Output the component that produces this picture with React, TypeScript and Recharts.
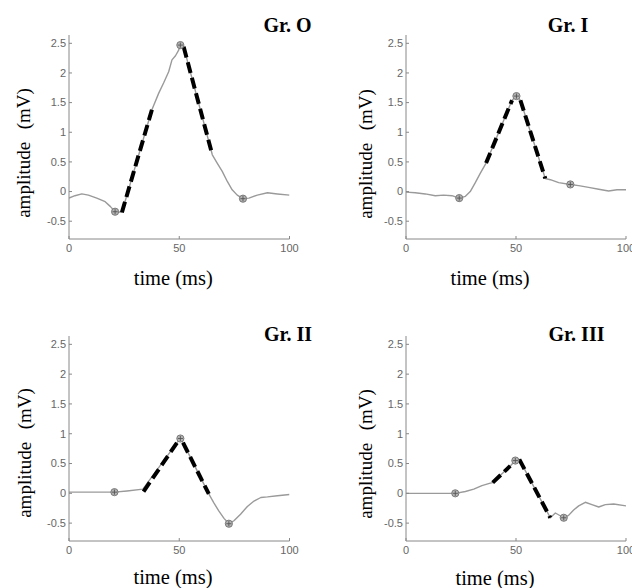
import React from 'react';
import { ComposedChart, Line, XAxis, YAxis } from 'recharts';

// ---- Data ----
const titles = ['Gr. O', 'Gr. I', 'Gr. II', 'Gr. III'];
const xTicks = [0, 50, 100];
const yTicks = [-0.5, 0, 0.5, 1, 1.5, 2, 2.5];

// Gr. O
const timeO = [0, 2.7, 5.8, 8.8, 12.6, 16.4, 18.7, 20.9, 24, 37.6, 40.7, 42.9, 45.2, 46.7, 48.3, 49.8, 50.5, 52, 65, 67.2, 69.5, 71.8, 74, 76.3, 78.9, 81.6, 85.4, 90, 94.5, 100];
const ampO = [-0.11, -0.07, -0.04, -0.06, -0.11, -0.17, -0.25, -0.34, -0.35, 1.38, 1.66, 1.83, 2.02, 2.22, 2.29, 2.39, 2.48, 2.44, 0.62, 0.48, 0.34, 0.17, 0.03, -0.06, -0.12, -0.11, -0.06, -0.02, -0.04, -0.06];
const dashTimeO = [[24, 37.6], [52, 65]];
const dashAmpO = [[-0.35, 1.38], [2.44, 0.62]];
const markTimeO = [20.9, 50.5, 78.9];
const markAmpO = [-0.34, 2.47, -0.12];

// Gr. I
const timeI = [0, 4.2, 8.8, 13.3, 17.1, 20.9, 24.2, 27, 29.2, 31.5, 33.8, 36.4, 48.2, 50.2, 52, 63.3, 65.6, 69.4, 74.7, 78.5, 83, 87.6, 92.1, 95.9, 100];
const ampI = [-0.01, -0.02, -0.04, -0.07, -0.06, -0.07, -0.11, -0.08, 0, 0.15, 0.31, 0.48, 1.54, 1.61, 1.54, 0.22, 0.2, 0.15, 0.12, 0.1, 0.07, 0.04, 0.01, 0.03, 0.03];
const dashTimeI = [[36.4, 48.2], [52, 63.3]];
const dashAmpI = [[0.48, 1.54], [1.54, 0.22]];
const markTimeI = [24.2, 50.2, 74.7];
const markAmpI = [-0.11, 1.61, 0.12];

// Gr. II
const timeII = [0, 14.1, 20.6, 26.3, 33.5, 49, 50.5, 51.7, 63.4, 65.7, 68, 70.3, 72.5, 74.8, 77.8, 80.9, 83.9, 87, 90, 94.5, 100];
const ampII = [0.02, 0.02, 0.02, 0.04, 0.07, 0.85, 0.92, 0.85, -0.01, -0.16, -0.3, -0.42, -0.51, -0.46, -0.35, -0.22, -0.13, -0.07, -0.06, -0.04, -0.02];
const dashTimeII = [[33.8, 49], [51.7, 63.4]];
const dashAmpII = [[0.03, 0.85], [0.85, -0.01]];
const markTimeII = [20.6, 50.5, 72.5];
const markAmpII = [0.02, 0.92, -0.51];

// Gr. III
const timeIII = [0, 11.8, 22.4, 27, 30.8, 34.5, 38.3, 39.4, 47.4, 49.7, 51.5, 65.6, 67.9, 71.7, 73.9, 76.2, 78.5, 81.5, 84.5, 87.6, 90.6, 94.4, 100];
const ampIII = [0, 0, 0, 0.03, 0.07, 0.13, 0.17, 0.18, 0.46, 0.55, 0.57, -0.41, -0.33, -0.41, -0.37, -0.28, -0.21, -0.15, -0.19, -0.23, -0.19, -0.18, -0.21];
const dashTimeIII = [[39.4, 47.4], [51.5, 65.6]];
const dashAmpIII = [[0.18, 0.46], [0.57, -0.41]];
const markTimeIII = [22.4, 49.7, 71.7];
const markAmpIII = [0, 0.55, -0.41];

// ---- helpers ----
const zip = (t: number[], v: number[]) => t.map((x, i) => ({ t: x, v: v[i] }));

const TICK_COLOR = '#888';
const LABEL_COLOR = '#666';
const SANS = "'Liberation Sans', Arial, sans-serif";
const SERIF = "'Liberation Serif', 'Times New Roman', serif";

const YTick = (props: any) => {
  const { x, y, payload } = props;
  return (
    <g>
      <line x1={x + 3} x2={x + 6} y1={y} y2={y} stroke={TICK_COLOR} strokeWidth={1} />
      <text x={x} y={y} dy="0.35em" textAnchor="end" fontSize={11} fill={LABEL_COLOR} fontFamily={SANS}>
        {String(payload.value)}
      </text>
    </g>
  );
};

const XTick = (props: any) => {
  const { x, y, payload } = props;
  return (
    <g>
      <line x1={x} x2={x} y1={y - 5.5} y2={y - 8.5} stroke={TICK_COLOR} strokeWidth={1} />
      <text x={x} y={y} dy="0.71em" textAnchor="middle" fontSize={11} fill={LABEL_COLOR} fontFamily={SANS}>
        {String(payload.value)}
      </text>
    </g>
  );
};

const Marker = (props: any) => {
  const { cx, cy, index } = props;
  if (cx == null || cy == null) return <g key={`m${index}`} />;
  return (
    <g key={`m${index}`}>
      <circle cx={cx} cy={cy} r={3.6} fill="#b4b4b4" stroke="#707070" strokeWidth={0.9} />
      <line x1={cx - 2.6} x2={cx + 2.6} y1={cy} y2={cy} stroke="#555" strokeWidth={0.9} />
      <line x1={cx} x2={cx} y1={cy - 2.6} y2={cy + 2.6} stroke="#555" strokeWidth={0.9} />
    </g>
  );
};

type PanelProps = {
  left: number;
  top: number;
  plot: { L: number; R: number; T: number; B: number };
  time: number[];
  amp: number[];
  dashT: number[][];
  dashA: number[][];
  markT: number[];
  markA: number[];
};

const W = 316;
const H = 294;
const YW = 30;
const XH = 20;

const Panel = ({ left, top, plot, time, amp, dashT, dashA, markT, markA }: PanelProps) => {
  const margin = { top: plot.T, left: plot.L - YW, right: W - plot.R, bottom: H - plot.B - XH };
  return (
    <div style={{ position: 'absolute', left, top, width: W, height: H }}>
      <ComposedChart width={W} height={H} margin={margin}>
        <XAxis
          type="number"
          dataKey="t"
          domain={[0, 100]}
          ticks={xTicks}
          allowDataOverflow
          height={XH}
          tickSize={0}
          tickMargin={5.5}
          tickLine={false}
          axisLine={{ stroke: TICK_COLOR, strokeWidth: 1 }}
          tick={<XTick />}
          interval={0}
        />
        <YAxis
          type="number"
          dataKey="v"
          domain={[-0.8, 2.64]}
          ticks={yTicks}
          allowDataOverflow
          width={YW}
          tickSize={0}
          tickMargin={3}
          tickLine={false}
          axisLine={{ stroke: TICK_COLOR, strokeWidth: 1 }}
          tick={<YTick />}
          interval={0}
        />
        <Line
          data={zip(time, amp)}
          dataKey="v"
          type="linear"
          stroke="#9a9a9a"
          strokeWidth={1.4}
          strokeLinejoin="round"
          dot={false}
          activeDot={false}
          isAnimationActive={false}
        />
        {dashT.map((seg, i) => (
          <Line
            key={`d${i}`}
            data={zip(seg, dashA[i])}
            dataKey="v"
            type="linear"
            stroke="#000"
            strokeWidth={4}
            strokeDasharray="11 5"
            dot={false}
            activeDot={false}
            isAnimationActive={false}
          />
        ))}
        <Line
          data={zip(markT, markA)}
          dataKey="v"
          stroke="none"
          dot={(p: any) => <Marker {...p} />}
          activeDot={false}
          isAnimationActive={false}
        />
      </ComposedChart>
    </div>
  );
};

const centered = (x: number, y: number, extra: React.CSSProperties = {}, rotate = false): React.CSSProperties => ({
  position: 'absolute',
  left: x,
  top: y,
  transform: `translate(-50%, -50%)${rotate ? ' rotate(-90deg)' : ''}`,
  whiteSpace: 'pre',
  lineHeight: 1,
  fontFamily: SERIF,
  color: '#000',
  ...extra,
});

export default function App() {
  const topPlotLeft = { L: 69, R: 289.5, T: 35, B: 239 };
  const topPlotRight = { L: 90, R: 310, T: 35, B: 239 };
  const botPlotLeft = { L: 69, R: 289.5, T: 42, B: 247 };
  const botPlotRight = { L: 90, R: 310, T: 42, B: 247 };

  const titleStyle = { fontSize: 20, fontWeight: 700 } as React.CSSProperties;
  const xLabStyle = { fontSize: 20.5 } as React.CSSProperties;
  const yLabStyle = { fontSize: 19, wordSpacing: 1.5 } as React.CSSProperties;

  return (
    <div style={{ position: 'absolute', left: 0, top: 0, width: 632, height: 588, background: '#fff', overflow: 'hidden' }}>
      <Panel left={0} top={0} plot={topPlotLeft} time={timeO} amp={ampO} dashT={dashTimeO} dashA={dashAmpO} markT={markTimeO} markA={markAmpO} />
      <Panel left={316} top={0} plot={topPlotRight} time={timeI} amp={ampI} dashT={dashTimeI} dashA={dashAmpI} markT={markTimeI} markA={markAmpI} />
      <Panel left={0} top={294} plot={botPlotLeft} time={timeII} amp={ampII} dashT={dashTimeII} dashA={dashAmpII} markT={markTimeII} markA={markAmpII} />
      <Panel left={316} top={294} plot={botPlotRight} time={timeIII} amp={ampIII} dashT={dashTimeIII} dashA={dashAmpIII} markT={markTimeIII} markA={markAmpIII} />

      <div style={centered(287.5, 25, titleStyle)}>{titles[0]}</div>
      <div style={centered(568, 25, titleStyle)}>{titles[1]}</div>
      <div style={centered(288, 334, titleStyle)}>{titles[2]}</div>
      <div style={centered(576.5, 334, titleStyle)}>{titles[3]}</div>

      <div style={centered(173.3, 277.5, xLabStyle)}>time (ms)</div>
      <div style={centered(490, 277.5, xLabStyle)}>time (ms)</div>
      <div style={centered(173, 577, xLabStyle)}>time (ms)</div>
      <div style={centered(495, 578, xLabStyle)}>time (ms)</div>

      <div style={centered(22.5, 152.5, yLabStyle, true)}>amplitude  (mV)</div>
      <div style={centered(365, 154, yLabStyle, true)}>amplitude  (mV)</div>
      <div style={centered(23.5, 453, yLabStyle, true)}>amplitude  (mV)</div>
      <div style={centered(365, 454, yLabStyle, true)}>amplitude  (mV)</div>
    </div>
  );
}
